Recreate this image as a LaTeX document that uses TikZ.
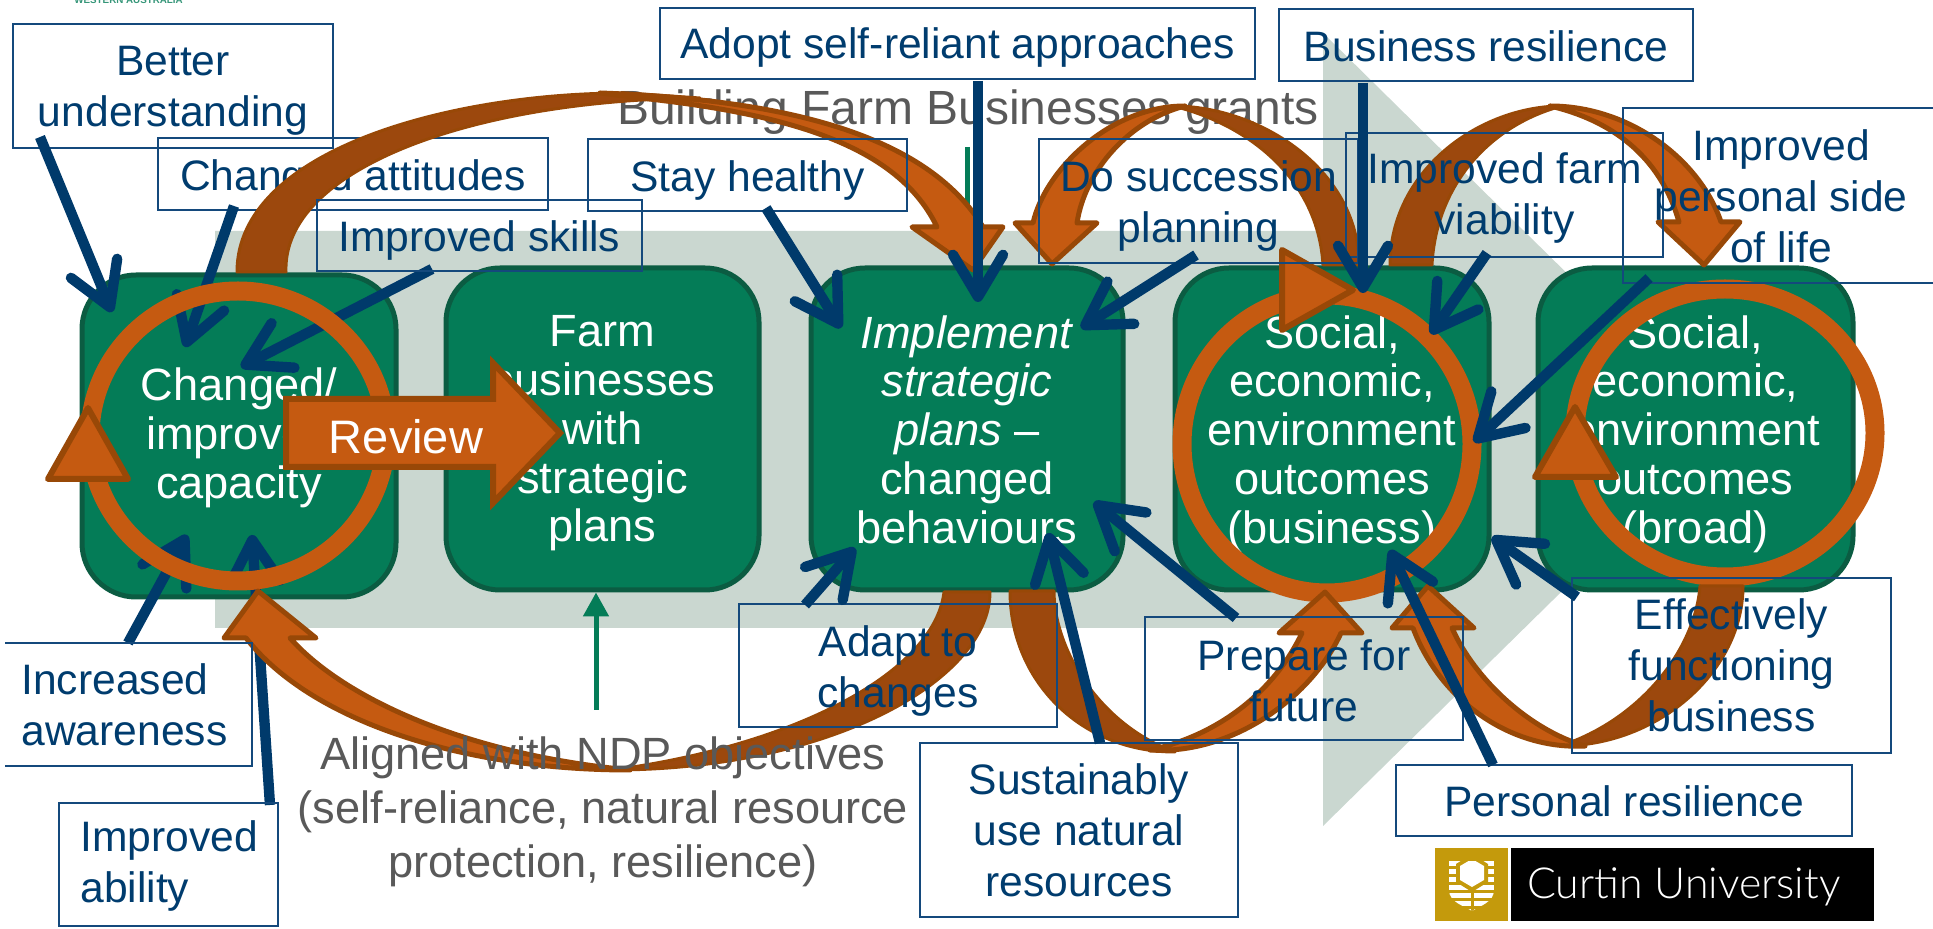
\documentclass[tikz,border=0pt]{standalone}
\usepackage{fontspec}
\setmainfont{Liberation Sans}
\newfontfamily\logofont{Lato Light}
\usetikzlibrary{arrows.meta}
\definecolor{bandgray}{HTML}{CAD7D0}
\definecolor{boxgreen}{HTML}{047C57}
\definecolor{boxedge}{HTML}{0B5C42}
\definecolor{ringor}{HTML}{C55A11}
\definecolor{bandedge}{HTML}{984807}
\definecolor{banddark}{HTML}{9C480D}
\definecolor{navy}{HTML}{003A6B}
\definecolor{navytext}{HTML}{003C6E}
\definecolor{lineblue}{HTML}{14497C}
\definecolor{graytext}{HTML}{595959}
\definecolor{curtingold}{HTML}{C49A0C}
\tikzset{
  x=0.5pt,y=-0.5pt,
  stage/.style={draw=boxedge,fill=boxgreen,line width=2.5pt,rounded corners=27pt,inner sep=0pt},
  stagetext/.style={text=white,align=center,inner sep=0pt,font=\fontsize{22.6}{24.4}\selectfont},
  lbl/.style={draw=lineblue,line width=1.1pt,inner sep=0pt,outer sep=0pt},
  lblopen/.style={draw=lineblue,line width=1.1pt},
  lbltext/.style={text=navytext,align=center,inner sep=0pt,font=\fontsize{21.3}{25.5}\selectfont},
  graylbl/.style={text=graytext,align=center,inner sep=0pt,font=\fontsize{22.6}{27}\selectfont},
  ring/.style={draw=ringor,line width=9.5pt},
  rtri/.style={fill=ringor,draw=bandedge,line width=3pt,line join=round},
  oband/.style={fill=ringor,draw=bandedge,line width=2.5pt,line join=round},
  dband/.style={fill=banddark,draw=bandedge,line width=1.5pt,line join=round},
  navyarrow/.style={draw=navy,line width=5.2pt,-{Straight Barb[length=21pt,width=25pt,line width=5.2pt,round]}},
  greenarrow/.style={draw=boxgreen,line width=2.5pt,-{Triangle[length=12pt,width=12.5pt]}},
}
\newcommand{\lblbox}[7][0]{\node[lbl,minimum width={(#5-#3)*0.5pt},minimum height={(#6-#4)*0.5pt}] (#2) at ({(#3+#5)/2},{(#4+#6)/2}) {};
  \node[lbltext,yshift=-#1pt] (#2t) at (#2.center) {#7};}
\newcommand{\stagebox}[7][0]{\node[stage,minimum width={(#5-#3)*0.5pt},minimum height={(#6-#4)*0.5pt}] (#2) at ({(#3+#5)/2},{(#4+#6)/2}) {};
  \node[stagetext,yshift=-#1pt] (#2t) at (#2.center) {#7};}
\newcommand{\conn}[3]{\coordinate (#1s) at (#2); \coordinate (#1e) at (#3); \draw[navyarrow] (#1s) -- (#1e);}
\begin{document}
\begin{tikzpicture}
\useasboundingbox (0,0) rectangle (1933,929);
% cut-off logo remnant
\begin{scope}
\clip (0,0) rectangle (1933,10);
\node[anchor=base west,inner sep=0pt,text=boxgreen!80,font=\fontsize{4.9}{5}\selectfont\bfseries] (wa) at (74,4) {WESTERN AUSTRALIA};
\end{scope}
% big grey arrow
\fill[bandgray] (215,231) -- (1323,231) -- (1323,33) -- (1726,430) -- (1323,826) -- (1323,628) -- (215,628) -- cycle;
% stages
\stagebox[1]{s1}{82}{275}{396}{597}{Changed/\\improved\\capacity}
\stagebox[2.2]{s2}{446}{268}{759}{590}{Farm\\businesses\\with\\strategic\\plans}
\stagebox[0.3]{s3}{811}{268}{1123}{590}{\textit{Implement}\\\textit{strategic}\\\textit{plans} –\\changed\\behaviours}
\stagebox[2.5]{s4}{1175}{268}{1489}{590}{Social,\\economic,\\environment\\outcomes\\(business)}
\stagebox[2.5]{s5}{1538}{268}{1853}{590}{Social,\\economic,\\environment\\outcomes\\(broad)}
% grey heading and thin green arrows
\node[graylbl,font=\fontsize{24}{27}\selectfont] (bfb) at (968,112) {Building Farm Businesses grants};
\coordinate (gt) at (967,147);
\draw[greenarrow] (gt) -- (s3.north -| gt);
\coordinate (gb) at (596,710);
\draw[greenarrow] (gb) -- (s2.south -| gb);
% label under the first loop
\lblbox[2.5]{attitudes}{158}{138}{548}{210}{Changed attitudes}
% blue arrows under ring 1
\conn{c2}{234,206}{185,347}
\conn{c3}{432,269}{241,367}
\conn{c15}{270,805}{252,535}
\conn{c16}{128,643}{187,535}
% rings
\draw[ring] (238,436) ellipse [x radius=148,y radius=145];
\draw[rtri] (88,408) -- (128,479) -- (48,479) -- cycle;
\draw[ring] (1327,444) ellipse [x radius=145,y radius=149];
\draw[rtri] (1282,250) -- (1353,290) -- (1282,330) -- cycle;
\draw[ring] (1725,433) ellipse [x radius=150,y radius=144];
\draw[rtri] (1575,407) -- (1616,477) -- (1535,477) -- cycle;
% loop A
\path[dband] (237,272) .. controls (237,150) and (450,93) .. (625,93) -- (700,98) .. controls (470,100) and (282,170) .. (286,272) -- cycle;
\path[oband] (600,93) .. controls (800,100) and (930,140) .. (983,227) -- (1003,227) -- (973,270) -- (912,227) -- (937,227) .. controls (900,150) and (800,115) .. (640,98) -- cycle;
% loop B
\path[dband] (1359,265) .. controls (1359,170) and (1260,106) .. (1173,106) .. controls (1250,125) and (1318,180) .. (1323,265) -- cycle;
\path[oband] (1185,106) .. controls (1110,106) and (1045,170) .. (1033,223) -- (1015,223) -- (1052,264) -- (1097,223) -- (1077,223) .. controls (1085,170) and (1130,120) .. (1185,106) -- cycle;
% loop C
\path[dband] (1390,265) .. controls (1390,170) and (1480,106) .. (1562,106) .. controls (1490,125) and (1436,185) .. (1432,265) -- cycle;
\path[oband] (1550,106) .. controls (1630,106) and (1700,160) .. (1721,222) -- (1740,222) -- (1704,265) -- (1658,222) -- (1679,222) .. controls (1660,155) and (1610,120) .. (1550,106) -- cycle;
% loop D
\path[dband] (990,592) .. controls (990,680) and (830,770) .. (612,770) .. controls (800,745) and (935,670) .. (944,592) -- cycle;
\path[oband] (630,770) .. controls (460,770) and (310,720) .. (246,638) -- (224,638) -- (258,591) -- (316,638) -- (290,638) .. controls (345,700) and (470,755) .. (630,770) -- cycle;
% loop E
\path[dband] (1010,591) .. controls (1010,680) and (1080,752) .. (1175,752) .. controls (1100,725) and (1054,650) .. (1054,591) -- cycle;
\path[oband] (1150,750) .. controls (1230,755) and (1310,700) .. (1341,633) -- (1362,633) -- (1325,592) -- (1279,633) -- (1302,633) .. controls (1275,690) and (1220,735) .. (1150,750) -- cycle;
% loop F
\path[dband] (1743,586) .. controls (1743,670) and (1660,746) .. (1560,746) .. controls (1640,720) and (1695,650) .. (1700,586) -- cycle;
\path[oband] (1585,746) .. controls (1510,750) and (1440,700) .. (1413,628) -- (1392,628) -- (1428,586) -- (1474,628) -- (1452,628) .. controls (1475,680) and (1530,730) .. (1585,746) -- cycle;
% labels
\lblbox[2.5]{better}{13}{24}{333}{148}{Better\\understanding}
\lblbox[2.5]{skills}{317}{200}{642}{271}{Improved skills}
\lblbox[2.5]{healthy}{588}{139}{907}{211}{Stay healthy}
\lblbox[2]{adopt}{660}{8}{1255}{79}{Adopt self-reliant approaches}
\lblbox[0.5]{bres}{1279}{9}{1693}{81}{Business resilience}
\lblbox[2.5]{succ}{1039}{139}{1358}{263}{Do succession\\planning}
\lblbox[1.5]{farm}{1346}{133}{1663}{257}{Improved farm\\viability}
\draw[lblopen] (1933,108) -- (1623,108) -- (1623,283) -- (1933,283);
\node[lbltext] (personal) at (1781,196) {Improved\\personal side\\of life};
\draw[lblopen] (5,643) -- (252,643) -- (252,766) -- (5,766);
\node[lbltext,align=left,anchor=west] (aware) at (21,705) {Increased\\awareness};
\lblbox{ability}{59}{803}{278}{926}{}
\node[lbltext,align=left,anchor=west] (abilityt2) at (80,866) {Improved\\ability};
\lblbox[2.5]{adapt}{739}{604}{1057}{727}{Adapt to\\changes}
\lblbox[1]{prep}{1145}{617}{1463}{740}{Prepare for\\future}
\lblbox{sust}{920}{743}{1238}{917}{Sustainably\\use natural\\resources}
\lblbox{eff}{1572}{578}{1891}{753}{Effectively\\functioning\\business}
\lblbox[0.5]{pres}{1396}{765}{1852}{836}{Personal resilience}
\node[graylbl] (ndp) at (603,812) {Aligned with NDP objectives\\(self-reliance, natural resource\\protection, resilience)};
% review arrow
\path[rtri,line join=miter] (286,399) -- (493,399) -- (493,363) -- (560,433) -- (493,503) -- (493,467) -- (286,467) -- cycle;
\node[text=white,inner sep=0pt,font=\fontsize{23.5}{26}\selectfont] (review) at (406,437) {Review};
% blue arrows on top
\conn{c1}{40,137}{112,312}
\conn{c4}{766,208}{841,328}
\conn{c5}{978,81}{978,302}
\conn{c6}{1196,255}{1081,328}
\conn{c7}{1363,83}{1363,293}
\conn{c8}{1487,253}{1431,334}
\conn{c9}{1649,278}{1474,442}
\conn{c10}{1577,597}{1492,537}
\conn{c11}{1493,765}{1390,550}
\conn{c12}{1236,618}{1094,502}
\conn{c13}{1100,743}{1048,533}
\conn{c14}{805,605}{855,548}
% Curtin logo
\fill[curtingold] (1435,848) rectangle (1508,921);
\fill[black] (1511,848) rectangle (1874,921);
\begin{scope}
\clip (1449,861) -- (1494,861) -- (1494,890) .. controls (1494,902) and (1480,906) .. (1472,911) .. controls (1464,906) and (1449,902) .. (1449,890) -- cycle;
\foreach \yy in {861,869,877,885,893,901,909}{\fill[white] (1449,\yy) rectangle (1494,\yy+4.5);}
\fill[curtingold] (1472,854) -- (1488,864) -- (1488,882) -- (1472,892) -- (1456,882) -- (1456,864) -- cycle;
\fill[white] (1472,859) -- (1484,866) -- (1484,880) -- (1472,887) -- (1460,880) -- (1460,866) -- cycle;
\fill[curtingold] (1470.5,889) rectangle (1473.5,911);
\end{scope}
\node[text=white,inner sep=0pt,anchor=base west,font=\logofont\fontsize{21.4}{23}\selectfont] (curtin) at (1527,898) {Curtin University};
\end{tikzpicture}
\end{document}
